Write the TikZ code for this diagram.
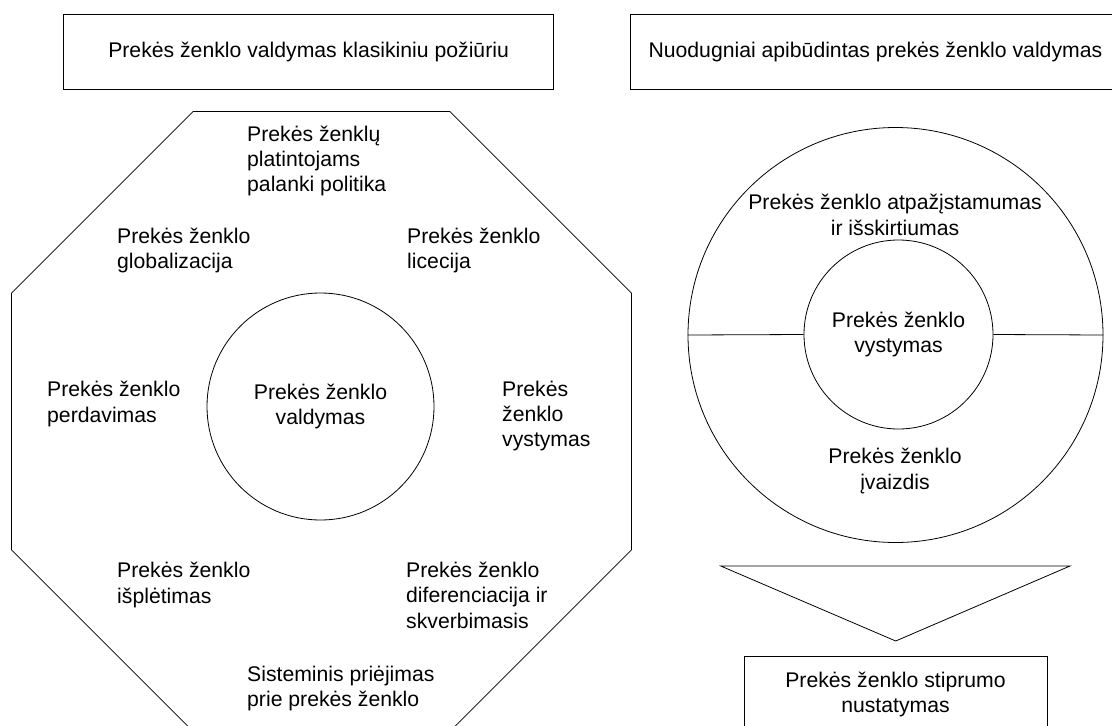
\documentclass[tikz,border=0pt]{standalone}
\usepackage{fontspec}
\setmainfont{Liberation Sans}
\begin{document}
\begin{tikzpicture}[x=1pt,y=-1pt,
  every node/.style={font=\fontsize{21.2}{25.4}\selectfont, inner sep=0pt, text=black},
  outline/.style={draw=black, line width=0.8pt},
  headbox/.style={outline, rectangle, minimum width=490pt, minimum height=75pt, align=center},
  ring/.style={outline, circle},
  lefttext/.style={anchor=west, align=left},
  midtext/.style={align=center}]

% page frame
\useasboundingbox (0,0) rectangle (1112,726);
\clip (0,0) rectangle (1112,726);

% ---- headings ----
\node[headbox] (classic) at (308.6,51.5) {Prekės ženklo valdymas klasikiniu požiūriu};
\node[headbox] (detailed) at (875.4,51.5) {Nuodugniai apibūdintas prekės ženklo valdymas};

% ---- left: octagon of brand management tasks ----
\coordinate (o1) at (193.1,111.5);
\coordinate (o2) at (449.9,111.5);
\coordinate (o3) at (631.5,293.1);
\coordinate (o4) at (631.5,549.9);
\coordinate (o5) at (449.9,731.5);
\coordinate (o6) at (193.1,731.5);
\coordinate (o7) at (11.5,549.9);
\coordinate (o8) at (11.5,293.1);
\draw[outline] (o1) -- (o2) -- (o3) -- (o4) -- (o5) -- (o6) -- (o7) -- (o8) -- cycle;

\node[ring, minimum size=227pt, midtext] (core) at (320.5,406.5) {Prekės ženklo\\valdymas};

\node[lefttext] (policy) at (247,161) {Prekės ženklų\\platintojams\\palanki politika};
\node[lefttext] (global) at (117,250.5) {Prekės ženklo\\globalizacija};
\node[lefttext] (licence) at (407,250.5) {Prekės ženklo\\licecija};
\node[lefttext] (transfer) at (47,404) {Prekės ženklo\\perdavimas};
\node[lefttext] (develop) at (502,416) {Prekės\\ženklo\\vystymas};
\node[lefttext] (extend) at (117,585) {Prekės ženklo\\išplėtimas};
\node[lefttext] (differ) at (406,595) {Prekės ženklo\\diferenciacija ir\\skverbimasis};
\node[lefttext] (system) at (247,688.5) {Sisteminis priėjimas\\prie prekės ženklo};

% ---- right: nested circles ----
\node[ring, minimum size=415pt] (outer) at (895.5,335) {};
\node[ring, minimum size=189pt, midtext] (inner) at (898.5,334.5) {Prekės ženklo\\vystymas};
\draw[outline] (outer.west) -- (inner.west);
\draw[outline] (inner.east) -- (outer.east);

\node[midtext] (recog) at (895,215) {Prekės ženklo atpažįstamumas\\ir išskirtiumas};
\node[midtext] (image) at (895,471) {Prekės ženklo\\įvaizdis};

% downward pointer
\coordinate (t1) at (720.7,566);
\coordinate (t2) at (1070,566);
\coordinate (t3) at (895.7,641);
\draw[outline] (t1) -- (t2) -- (t3) -- cycle;

\node[outline, rectangle, minimum width=303pt, minimum height=75pt, midtext] (strength) at (895.5,694.2) {Prekės ženklo stiprumo\\nustatymas};

\end{tikzpicture}
\end{document}
